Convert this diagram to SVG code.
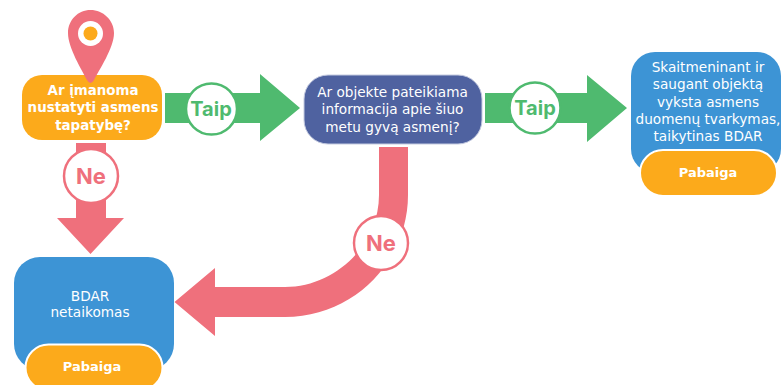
<svg xmlns="http://www.w3.org/2000/svg" width="781" height="385" viewBox="0 0 781 385">
<style>
.t{font-family:"DejaVu Sans",Verdana,sans-serif;font-size:13.650px;fill:#fff;text-anchor:middle}
.b{font-weight:700;font-size:13.400px}
.e{font-weight:700;font-size:13px}
.c{font-family:"Inter","Open Sans",sans-serif;font-weight:700;font-size:20px;text-anchor:middle}
.g{fill:#4fba6f}.p{fill:#ef707c}
</style>
<rect width="781" height="385" fill="#fff"/>
<g id="connectors">
<path class="g" d="M165 93H260V74L300 108L260 141V123H165Z"/>
<path class="g" d="M485 93H587V75L627 108L587 142V123H485Z"/>
<path class="p" d="M76 143H106V218H124L90.500 254L57 218H76Z"/>
<path class="p" d="M379 147H408V195C408 260 355 317 285 317H215V336L174.500 302L215 268V287H285C335 287 379 245 379 195Z"/>
</g>
<g id="start">
<rect x="22" y="75" width="140" height="65" rx="20" fill="#fcaa1b"/>
<path class="p" d="M90.500 10C78 10 68 20 68 33C68 48 82 70 87 80Q90.500 86 94 80C99 70 114 48 114 33C114 20 103 10 90.500 10Z"/>
<circle cx="90.500" cy="33.500" r="12.500" fill="#fff"/>
<circle cx="90.500" cy="33.500" r="7" fill="#fcaa1b"/>
<text class="t b" x="93" y="95">Ar įmanoma</text>
<text class="t b" x="93" y="112">nustatyti asmens</text>
<text class="t b" x="93" y="130">tapatybę?</text>
</g>
<g id="taip1"><circle cx="211.500" cy="109" r="25.500" fill="#fff" stroke="#4fba6f" stroke-width="2.500"/><text class="c" x="211" y="116" fill="#4fba6f">Taip</text></g>
<g id="question2">
<rect x="304" y="75" width="178" height="69" rx="24" fill="#4f62a0" stroke="#c5cbe0"/>
<text class="t" x="392.500" y="97">Ar objekte pateikiama</text>
<text class="t" x="392.500" y="114">informacija apie šiuo</text>
<text class="t" x="392.500" y="132">metu gyvą asmenį?</text>
</g>
<g id="taip2"><circle cx="535" cy="108" r="25.500" fill="#fff" stroke="#4fba6f" stroke-width="2.500"/><text class="c" x="535" y="115" fill="#4fba6f">Taip</text></g>
<g id="ne1"><circle cx="91" cy="176" r="27" fill="#fff" stroke="#ef707c" stroke-width="2.500"/><text class="c" x="91" y="184" fill="#ef707c" style="font-size:22px">Ne</text></g>
<g id="ne2"><circle cx="381" cy="243" r="27" fill="#fff" stroke="#ef707c" stroke-width="2.500"/><text class="c" x="381" y="251" fill="#ef707c" style="font-size:22px">Ne</text></g>
<g id="result-left">
<rect x="14" y="257" width="160" height="113" rx="26" fill="#3d94d5"/>
<text class="t" x="90" y="301">BDAR</text>
<text class="t" x="90" y="317">netaikomas</text>
<rect x="25.500" y="344.500" width="137" height="46" rx="23" fill="#fcaa1b" stroke="#fff" stroke-width="2"/>
<text class="t e" x="92" y="371">Pabaiga</text>
</g>
<g id="result-right">
<rect x="631" y="52" width="150" height="121" rx="24" fill="#3d94d5"/>
<text class="t" x="708" y="72">Skaitmeninant ir</text>
<text class="t" x="708" y="89">saugant objektą</text>
<text class="t" x="708" y="107">vyksta asmens</text>
<text class="t" x="708" y="124">duomenų tvarkymas,</text>
<text class="t" x="708" y="141">taikytinas BDAR</text>
<rect x="640" y="150" width="137" height="46" rx="23" fill="#fcaa1b" stroke="#fff" stroke-width="2"/>
<text class="t e" x="708" y="177">Pabaiga</text>
</g>
</svg>
